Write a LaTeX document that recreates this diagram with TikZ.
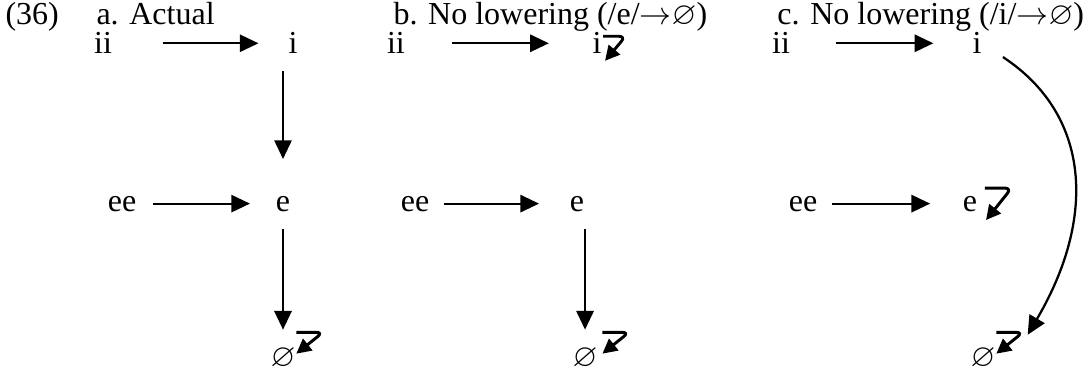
\documentclass[12pt,tikz,border=0pt]{standalone}
\usepackage{amssymb}
\usepackage{fontspec}
\setmainfont{Liberation Serif}
\usetikzlibrary{arrows.meta, calc}

\begin{document}
\begin{tikzpicture}[
  >=Triangle,
  font=\fontsize{12}{14.5}\selectfont,
  % Node styles
  seg/.style      = {anchor=base, inner sep=0pt},
  head/.style     = {anchor=base west, inner sep=0pt},
  % Arrow styles
  arr/.style      = {-{Triangle[length=7pt, width=6.5pt]}, line width=0.7pt},
  down/.style     = {arr, shorten <=2.2mm, shorten >=2.4mm},
  curvearr/.style = {-{Triangle[length=7pt, width=6.5pt]}, line width=0.85pt},
  hook/.style     = {-{Triangle[length=5.5pt, width=5.5pt]}, line width=1.1pt,
                     rounded corners=2.5pt}
]
\useasboundingbox (0,0) rectangle (14.353,-4.929);

% =========================== HEADINGS ===========================
\node[head] (ex)   at (0.066, -0.325) {(36)};
\node[head] (hA)   at (1.265, -0.325) {a. Actual};
\node[head] (hB)   at (5.180, -0.325) {b. No lowering (/e/${\rightarrow}\varnothing$)};
\node[head] (hC)   at (10.240,-0.325) {c. No lowering (/i/${\rightarrow}\varnothing$)};

% =========================== (a) ACTUAL ===========================
\node[seg] (iia) at (1.358, -0.71) {ii};
\node[seg] (ia)  at (3.862, -0.71) {i};
\node[seg] (eea) at (1.608, -2.781) {ee};
\node[seg] (ea)  at (3.730, -2.781) {e};
\node[seg] (za)  at (3.730, -4.837) {$\varnothing$};

\draw[arr, shorten <=6.6mm, shorten >=3.9mm] (iia) -- (ia);
\draw[arr, shorten <=2.1mm, shorten >=3.35mm] (eea) -- (ea);
\draw[arr, shorten <=2.2mm, shorten >=4.8mm] (ea |- ia.south) -- (ea);
\draw[down] (ea) -- (za);
\draw[hook] ([shift={(5pt,13pt)}]za.base) -- ++(10pt,0)
            -- ([shift={(5pt,5pt)}]za.base);

% =========================== (b) NO LOWERING /e/ ===========================
\node[seg] (iib) at (5.219, -0.71) {ii};
\node[seg] (ib)  at (7.869, -0.71) {i};
\node[seg] (eeb) at (5.470, -2.781) {ee};
\node[seg] (eb)  at (7.605, -2.781) {e};
\node[seg] (zb)  at (7.711, -4.837) {$\varnothing$};

\draw[arr, shorten <=6.2mm, shorten >=5.7mm] (iib) -- (ib);
\draw[arr, shorten <=1.85mm, shorten >=4mm] (eeb) -- (eb);
\draw[down] (zb |- eb.south) -- (zb);
\draw[hook] ([shift={(2.25pt,6.6pt)}]ib.base) -- ++(8.5pt,0)
            -- ([shift={(3pt,-2.6pt)}]ib.base);
\draw[hook] ([shift={(6.5pt,13pt)}]zb.base) -- ++(10pt,0)
            -- ([shift={(6.5pt,5pt)}]zb.base);

% =========================== (c) NO LOWERING /i/ ===========================
\node[seg] (iic) at (10.294,-0.71) {ii};
\node[seg] (ic)  at (12.877,-0.71) {i};
\node[seg] (eec) at (10.584,-2.781) {ee};
\node[seg] (ec)  at (12.785,-2.781) {e};
\node[seg] (zc)  at (12.956,-4.837) {$\varnothing$};

\draw[arr, shorten <=5.95mm, shorten >=5.1mm] (iic) -- (ic);
\draw[arr, shorten <=1.85mm, shorten >=4.25mm] (eec) -- (ec);
% i goes straight to zero, round the right-hand side
\draw[curvearr, shorten <=3.3mm, shorten >=2mm] (ic.east)
  .. controls (14.38,-1.516) and (14.45,-2.873) .. ([xshift=9pt]zc.north east);
\draw[hook] ([shift={(5.6pt,8.6pt)}]ec.base) -- ++(10pt,0)
            -- ([shift={(6pt,-3.4pt)}]ec.base);
\draw[hook] ([shift={(5pt,13pt)}]zc.base) -- ++(10pt,0)
            -- ([shift={(5pt,5pt)}]zc.base);

\end{tikzpicture}
\end{document}
